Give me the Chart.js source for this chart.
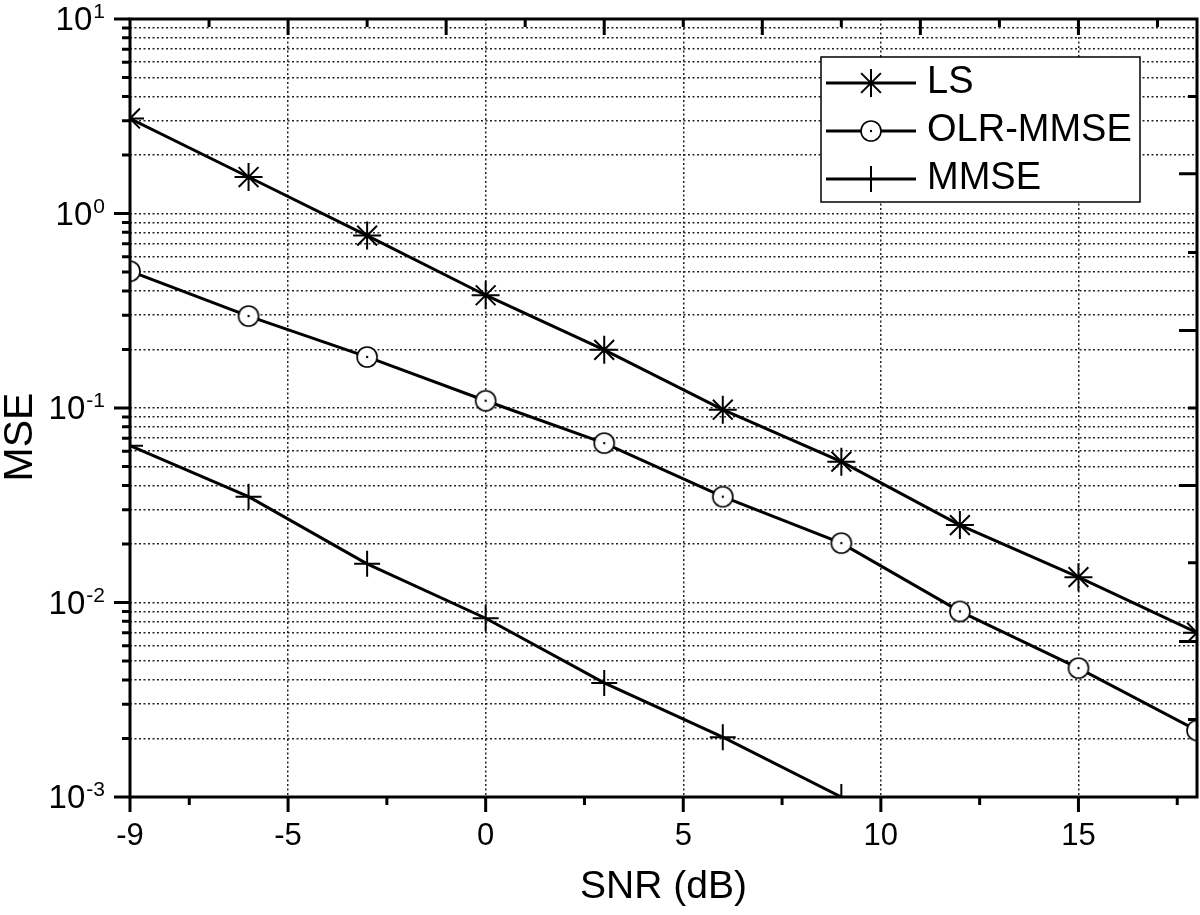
<!DOCTYPE html>
<html>
<head>
<meta charset="utf-8">
<title>MSE vs SNR</title>
<script src="https://cdn.jsdelivr.net/npm/chart.js@4.4.1/dist/chart.umd.min.js"></script>
<style>
  html, body { margin: 0; padding: 0; background: #fff; }
  #wrap { width: 1200px; height: 915px; }
</style>
</head>
<body>
<div id="wrap"><canvas id="mseChart" width="1200" height="915"></canvas></div>
<script>
// SNR points (dB)
const snr = [-9, -6, -3, 0, 3, 6, 9, 12, 15, 18];

// MSE values
const lsMse = [3.08, 1.54, 0.77, 0.38, 0.199, 0.098, 0.053, 0.025, 0.0135, 0.0070];
const olrMmseMse = [0.505, 0.297, 0.183, 0.109, 0.066, 0.035, 0.0202, 0.0090, 0.0046, 0.0022];
const mmseMse = [0.064, 0.035, 0.0158, 0.0083, 0.00386, 0.00203, 0.00100];

const seriesLabels = ['LS', 'OLR-MMSE', 'MMSE'];

// x axis ticks
const xTickValues = [-9, -5, 0, 5, 10, 15];
const xMinorTicks = [-7.5, -2.5, 2.5, 7.5, 12.5, 17.5];
// mirrored ticks on the top edge
const topMajorTicks = [-5, -1, 3, 7, 11, 15];
const topMinorTicks = [-7, -3, 1, 5, 9, 13, 17];

// y axis decades and minor steps
const yDecades = [-3, -2, -1, 0, 1];
const yMinorSteps = [2, 3, 4, 5, 6, 7, 8, 9];
// mirrored ticks on the right edge
const rightMajorTicks = [1.6, 0.25, 0.04, 0.0063];
const rightMinorTicks = [4.0, 0.63, 0.1, 0.016, 0.0025];

const FONT = "'Liberation Sans', Arial, Helvetica, sans-serif";
Chart.defaults.font.family = FONT;
Chart.defaults.color = '#000';

const PLOT_RIGHT = 1197;

// circle with a dot in the middle (OLR-MMSE marker)
function makeDotCircle(r) {
    const c = document.createElement('canvas');
    const s = 2 * r + 4;
    c.width = s;
    c.height = s;
    const g = c.getContext('2d');
    g.beginPath();
    g.arc(s / 2, s / 2, r, 0, Math.PI * 2);
    g.fillStyle = '#fff';
    g.fill();
    g.lineWidth = 1.6;
    g.strokeStyle = '#000';
    g.stroke();
    g.beginPath();
    g.arc(s / 2, s / 2, 1.2, 0, Math.PI * 2);
    g.fillStyle = '#000';
    g.fill();
    return c;
}
const dotCircle = makeDotCircle(10);

function toPoints(values) {
    return values.map((v, i) => ({ x: snr[i], y: v }));
}

// draws one legend marker by hand
function drawMarker(ctx, ds, x, y) {
    const r = ds.pointRadius;
    ctx.save();
    ctx.strokeStyle = '#000';
    ctx.lineWidth = ds.pointBorderWidth;
    if (ds.pointStyle instanceof HTMLCanvasElement) {
        ctx.drawImage(ds.pointStyle, x - ds.pointStyle.width / 2, y - ds.pointStyle.height / 2);
    } else {
        ctx.beginPath();
        ctx.moveTo(x - r, y); ctx.lineTo(x + r, y);
        ctx.moveTo(x, y - r); ctx.lineTo(x, y + r);
        if (ds.pointStyle === 'star') {
            const d = r * Math.SQRT1_2;
            ctx.moveTo(x - d, y - d); ctx.lineTo(x + d, y + d);
            ctx.moveTo(x - d, y + d); ctx.lineTo(x + d, y - d);
        }
        ctx.stroke();
    }
    ctx.restore();
}

// layout leaves a gap on the right, pin the plot edge
const pinArea = {
    id: 'pinArea',
    afterLayout(chart) {
        const a = chart.chartArea;
        const x = chart.scales.x;
        if (a.right !== PLOT_RIGHT) {
            a.right = PLOT_RIGHT;
            a.width = a.right - a.left;
            x.right = PLOT_RIGHT;
            x.width = x.right - x.left;
            x.configure();
        }
    }
};

const decorations = {
    id: 'decorations',
    afterDatasetsDraw(chart) {
        const { ctx, chartArea: a, scales: { x, y } } = chart;
        ctx.save();
        ctx.strokeStyle = '#000';
        ctx.lineWidth = 3;

        // frame
        ctx.strokeRect(a.left, a.top, a.right - a.left, a.bottom - a.top);

        ctx.beginPath();
        // bottom ticks (outward)
        xTickValues.forEach(v => {
            const px = x.getPixelForValue(v);
            ctx.moveTo(px, a.bottom); ctx.lineTo(px, a.bottom + 15);
        });
        xMinorTicks.forEach(v => {
            const px = x.getPixelForValue(v);
            ctx.moveTo(px, a.bottom); ctx.lineTo(px, a.bottom + 8);
        });
        // top ticks (inward)
        topMajorTicks.forEach(v => {
            const px = x.getPixelForValue(v);
            ctx.moveTo(px, a.top); ctx.lineTo(px, a.top + 16);
        });
        topMinorTicks.forEach(v => {
            const px = x.getPixelForValue(v);
            ctx.moveTo(px, a.top); ctx.lineTo(px, a.top + 8);
        });
        // left ticks (outward)
        yDecades.forEach((d, i) => {
            const py = y.getPixelForValue(Math.pow(10, d));
            ctx.moveTo(a.left - 16, py); ctx.lineTo(a.left, py);
            if (i < yDecades.length - 1) {
                yMinorSteps.forEach(m => {
                    const pm = y.getPixelForValue(m * Math.pow(10, d));
                    ctx.moveTo(a.left - 8, pm); ctx.lineTo(a.left, pm);
                });
            }
        });
        // right ticks (inward)
        rightMajorTicks.forEach(v => {
            const py = y.getPixelForValue(v);
            ctx.moveTo(a.right - 18, py); ctx.lineTo(a.right, py);
        });
        rightMinorTicks.forEach(v => {
            const py = y.getPixelForValue(v);
            ctx.moveTo(a.right - 9, py); ctx.lineTo(a.right, py);
        });
        ctx.stroke();

        // y tick labels as 10 with superscript exponent
        ctx.fillStyle = '#000';
        ctx.textBaseline = 'alphabetic';
        ctx.textAlign = 'left';
        yDecades.forEach(d => {
            const py = y.getPixelForValue(Math.pow(10, d));
            const base = '10';
            const exp = String(d);
            ctx.font = '33px ' + FONT;
            const wb = ctx.measureText(base).width;
            ctx.font = '21px ' + FONT;
            const we = ctx.measureText(exp).width;
            const start = 104 - wb - we;
            ctx.font = '33px ' + FONT;
            ctx.fillText(base, start, py + 11);
            ctx.font = '21px ' + FONT;
            ctx.fillText(exp, start + wb + 1, py - 1);
        });

        // y axis title
        ctx.save();
        ctx.translate(21, 437);
        ctx.rotate(-Math.PI / 2);
        ctx.font = '41px ' + FONT;
        ctx.textAlign = 'center';
        ctx.textBaseline = 'middle';
        ctx.fillText('MSE', 0, 0);
        ctx.restore();

        // legend box
        const box = { left: 821, top: 57, right: 1140, bottom: 202 };
        ctx.fillStyle = '#fff';
        ctx.fillRect(box.left, box.top, box.right - box.left, box.bottom - box.top);
        ctx.lineWidth = 1.5;
        ctx.strokeRect(box.left, box.top, box.right - box.left, box.bottom - box.top);
        chart.data.datasets.forEach((ds, i) => {
            const ly = 83 + i * 48;
            ctx.lineWidth = ds.borderWidth;
            ctx.beginPath();
            ctx.moveTo(826, ly); ctx.lineTo(916, ly);
            ctx.stroke();
            drawMarker(ctx, ds, 871, ly);
            ctx.fillStyle = '#000';
            ctx.font = '38px ' + FONT;
            ctx.textAlign = 'left';
            ctx.textBaseline = 'middle';
            ctx.fillText(ds.label, 927, ly);
        });
        ctx.restore();
    }
};

const ctx = document.getElementById('mseChart');
new Chart(ctx, {
    type: 'line',
    data: {
        datasets: [{
            label: seriesLabels[0],
            data: toPoints(lsMse),
            borderColor: '#000',
            borderWidth: 3,
            pointStyle: 'star',
            pointRadius: 14,
            pointBorderWidth: 2,
            pointBorderColor: '#000',
            pointBackgroundColor: '#000'
        }, {
            label: seriesLabels[1],
            data: toPoints(olrMmseMse),
            borderColor: '#000',
            borderWidth: 3,
            pointStyle: dotCircle,
            pointRadius: 10,
            pointBorderWidth: 1.6,
            pointBorderColor: '#000',
            pointBackgroundColor: '#fff'
        }, {
            label: seriesLabels[2],
            data: toPoints(mmseMse),
            borderColor: '#000',
            borderWidth: 3,
            pointStyle: 'cross',
            pointRadius: 13,
            pointBorderWidth: 2,
            pointBorderColor: '#000',
            pointBackgroundColor: '#000'
        }]
    },
    options: {
        responsive: false,
        devicePixelRatio: 1,
        animation: false,
        layout: {
            padding: { left: 0, right: 3, top: 19, bottom: 0 }
        },
        plugins: {
            legend: { display: false },
            tooltip: { enabled: false }
        },
        elements: {
            line: { tension: 0, fill: false }
        },
        scales: {
            x: {
                type: 'linear',
                min: -9,
                max: 18,
                afterBuildTicks: (scale) => {
                    scale.ticks = xTickValues.map(v => ({ value: v }));
                },
                afterFit: (scale) => {
                    scale.height = 118;
                    scale.paddingLeft = 0;
                    scale.paddingRight = 0;
                },
                grid: {
                    drawTicks: false,
                    lineWidth: 1.5,
                    color: (c) => (c.tick && c.tick.value === -9) ? 'rgba(0,0,0,0)' : '#222'
                },
                border: { display: false, dash: [2, 2.5] },
                ticks: {
                    autoSkip: false,
                    maxRotation: 0,
                    padding: 21,
                    color: '#000',
                    font: { size: 31, lineHeight: 1.2 },
                    callback: (v) => String(v)
                },
                title: {
                    display: true,
                    text: 'SNR (dB)',
                    color: '#000',
                    font: { size: 39, lineHeight: 1 },
                    padding: { top: 0, bottom: 8.5 }
                }
            },
            y: {
                type: 'logarithmic',
                min: 0.001,
                max: 10,
                afterBuildTicks: (scale) => {
                    const ticks = [];
                    yDecades.forEach((d, i) => {
                        ticks.push({ value: Math.pow(10, d), major: true });
                        if (i < yDecades.length - 1) {
                            yMinorSteps.forEach(m => ticks.push({ value: m * Math.pow(10, d), major: false }));
                        }
                    });
                    scale.ticks = ticks;
                },
                afterFit: (scale) => {
                    scale.width = 130;
                    scale.paddingTop = 0;
                    scale.paddingBottom = 0;
                },
                grid: {
                    drawTicks: false,
                    lineWidth: 1.5,
                    color: (c) => (c.tick && (c.tick.value === 10 || c.tick.value === 0.001)) ? 'rgba(0,0,0,0)' : '#222'
                },
                border: { display: false, dash: [2, 2.5] },
                ticks: { display: false }
            }
        }
    },
    plugins: [pinArea, decorations]
});
</script>
</body>
</html>
